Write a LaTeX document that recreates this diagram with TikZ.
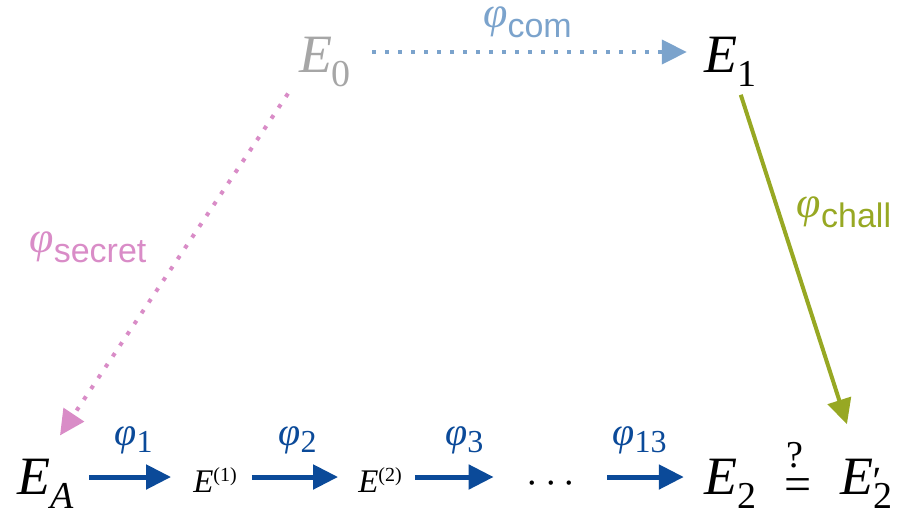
\documentclass[tikz,border=0pt]{standalone}
\usepackage{graphicx}
\usepackage{fontspec}
\setmainfont{Liberation Serif}
\setsansfont{Liberation Sans}
\usetikzlibrary{arrows.meta,positioning}

\definecolor{comblue}{HTML}{7BA3CC}
\definecolor{secpink}{HTML}{D98CC7}
\definecolor{challgreen}{HTML}{97A823}
\definecolor{isoblue}{HTML}{0B4A99}
\definecolor{startgray}{HTML}{A6A6A6}

% curve with a lowered index
\newcommand{\curve}[1]{{\fontsize{54}{60}\selectfont\itshape E}\raisebox{-14pt}{\fontsize{38}{44}\selectfont #1}}
% intermediate curve E^(i)
\newcommand{\midcurve}[1]{{\fontsize{33}{40}\selectfont\itshape E}\raisebox{11pt}{\fontsize{20}{24}\selectfont (#1)}}
% big math symbol, scaled up from 20pt
\newcommand{\bigmath}[2]{\scalebox{#1}{\fontsize{20}{24}\selectfont$#2$}}
% isogeny phi with index
\newcommand{\isog}[1]{{\fontsize{40}{44}\selectfont\itshape φ}\raisebox{-7pt}{\fontsize{32}{38}\selectfont #1}}
\newcommand{\bigisog}[1]{{\fontsize{44}{50}\selectfont\itshape φ}\raisebox{-10pt}{\fontsize{34}{40}\sffamily\selectfont #1}}

\begin{document}
\begin{tikzpicture}[
    x=1pt, y=-1pt,
    curvenode/.style={anchor=base, inner sep=0pt},
    isoarrow/.style={isoblue, line width=5pt, -{Triangle[length=25pt, width=24pt]}},
    dotarrow/.style={line width=4pt, dash pattern=on 4pt off 9pt, -{Triangle[length=25pt, width=24pt]}},
    challarrow/.style={challgreen, line width=4pt, -{Triangle[length=25pt, width=24pt]}},
    isolabel/.style={isoblue, inner sep=0pt, above=20pt}
  ]
    \useasboundingbox (0,0) rectangle (902,515);

    \node[curvenode, text=startgray] (e0) at (325,72) {\curve{0}};
    \node[curvenode] (e1) at (730,72) {\curve{1}};
    \node[curvenode] (ea) at (46,494) {\curve{\itshape A}};
    \node[curvenode] (m1) at (215,492) {\midcurve{1}};
    \node[curvenode] (m2) at (380,492) {\midcurve{2}};
    \node[curvenode] (dots) at (551,493) {\bigmath{2}{\cdots}};
    \node[curvenode] (e2) at (730,494) {\curve{2}};
    \node[curvenode] (eq) at (798,494) {\raisebox{-6pt}{\fontsize{48}{52}\selectfont =}};
    \node[curvenode] (qm) at (795,467) {\fontsize{38}{42}\selectfont ?};
    \node[curvenode] (e2p) at (866,494) {{\fontsize{54}{60}\selectfont\itshape E}\rlap{\kern-3pt\fontsize{40}{48}\selectfont\itshape ′}\raisebox{-14pt}{\fontsize{38}{44}\selectfont 2}};

    % commitment and secret
    \draw[dotarrow, comblue, shorten <=21pt, shorten >=17pt] (e0.east |- 0,52) -- node[midway, above=12pt, inner sep=0pt, comblue] (lcom) {\bigisog{com}} (e1.west |- 0,52);
    \draw[dotarrow, secpink] ([xshift=-37pt, yshift=-7pt]e0.south) -- node[pos=0.45, left=37pt, inner sep=0pt, secpink] (lsec) {\bigisog{secret}} ([xshift=14pt, yshift=23pt]ea.north);
    % challenge
    \draw[challarrow, shorten <=9pt, shorten >=36pt] (e1) -- node[pos=0.34, right=16pt, inner sep=0pt, challgreen] (lchall) {\bigisog{chall}} (e2p);

    % isogeny chain
    \draw[isoarrow, shorten <=15pt, shorten >=22pt] (ea.east |- 0,477) -- node[isolabel] (l1) {\isog{1}} (m1.west |- 0,477);
    \draw[isoarrow, shorten <=15pt, shorten >=20pt] (m1.east |- 0,477) -- node[isolabel] (l2) {\isog{2}} (m2.west |- 0,477);
    \draw[isoarrow, shorten <=13pt, shorten >=33pt] (m2.east |- 0,477) -- node[isolabel] (l3) {\isog{3}} (dots.west |- 0,477);
    \draw[isoarrow, shorten <=32pt, shorten >=20pt] (dots.east |- 0,477) -- node[isolabel] (l13) {\isog{13}} (e2.west |- 0,477);
\end{tikzpicture}
\end{document}
